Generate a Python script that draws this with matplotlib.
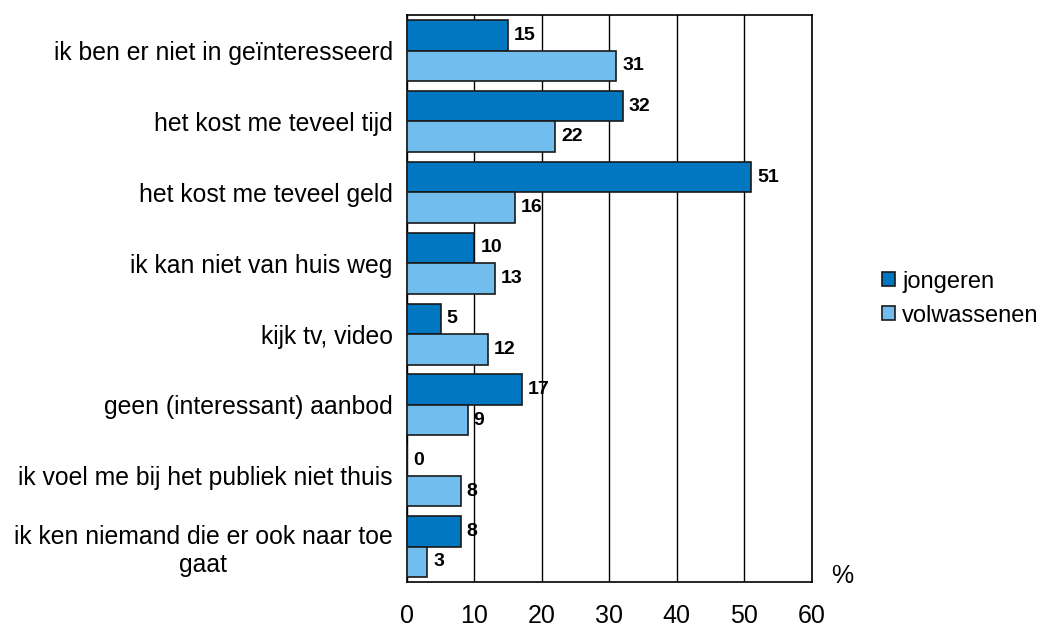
import matplotlib
matplotlib.use('Agg')
import matplotlib.pyplot as plt
import numpy as np

plt.rcParams['font.family'] = ['Liberation Sans', 'DejaVu Sans']

categories = ['ik ben er niet in geïnteresseerd', 'het kost me teveel tijd',
              'het kost me teveel geld', 'ik kan niet van huis weg',
              'kijk tv, video', 'geen (interessant) aanbod',
              'ik voel me bij het publiek niet thuis',
              'ik ken niemand die er ook naar toe\ngaat']
jongeren = [15, 32, 51, 10, 5, 17, 0, 8]
volwassenen = [31, 22, 16, 13, 12, 9, 8, 3]

fig = plt.figure(figsize=(10.51, 6.28), dpi=100)
ax = fig.add_axes([0.387, 0.073, 0.3855, 0.903])

y = np.arange(len(categories))
h = 0.43
b1 = ax.barh(y - h/2, jongeren, height=h, color='#0077C0', edgecolor='#1a1a1a', lw=1.2, label='jongeren', zorder=3)
b2 = ax.barh(y + h/2, volwassenen, height=h, color='#71BDED', edgecolor='#1a1a1a', lw=1.2, label='volwassenen', zorder=3)

for bars, vals in ((b1, jongeren), (b2, volwassenen)):
    for bar, v in zip(bars, vals):
        ax.text(v + 0.9, bar.get_y() + bar.get_height()/2, str(v), va='center', ha='left',
                fontsize=14, fontweight='bold')

ax.set_xlim(0, 60)
ax.set_ylim(len(categories) - 0.5, -0.5)
ax.set_xticks(range(0, 61, 10))
ax.xaxis.grid(True, color='black', lw=1)
ax.set_axisbelow(True)
ax.set_yticks(y)
ax.set_yticklabels(categories, fontsize=17.8, ha='right', multialignment='center')
ax.tick_params(axis='y', length=0, pad=10)
ax.tick_params(axis='x', length=0, labelsize=18, pad=16)
for s in ax.spines.values():
    s.set_color('black')
    s.set_linewidth(1.2)

ax.text(1.075, -0.01, '%', transform=ax.transAxes, fontsize=18, ha='center', va='bottom')

ax.legend(loc='center left', bbox_to_anchor=(1.15, 0.5), frameon=False, fontsize=17,
          handlelength=0.55, handleheight=0.55, handletextpad=0.3, labelspacing=0.5,
          borderaxespad=0)

fig.savefig('out.png', dpi=100)
